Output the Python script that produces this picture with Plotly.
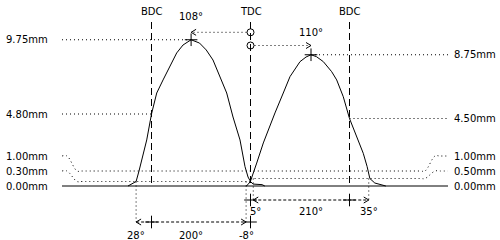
import plotly.graph_objects as go

# ---------------- data (crank degrees relative to TDC, lift in mm) ----------------
exhaust_deg = [-222.7, -215.5, -208, -202.7, -188.7, -180, -170.5, -159, -146.4, -134.2,
               -122.7, -115.5, -108, -92.7, -80.5, -68.2, -55.5, -43.3, -31.8, -19.1,
               -10, -4.5, 0, 4.5, 21, 26]
exhaust_lift = [0, 0.17, 0.30, 1.0, 3.07, 4.80, 6.2, 7.07, 7.95, 8.87,
                9.4, 9.6, 9.75, 9.53, 9.07, 8.4, 7.27, 6.2, 4.6, 3.07,
                1.29, 0.6, 0.3, 0.13, 0.09, 0]

intake_deg = [-8, -4.5, 0, 2.7, 11.3, 23.3, 38.5, 44.5, 59.6, 71.8, 90, 101, 110, 120,
              132.4, 147.6, 156.7, 168.7, 180, 193, 205, 212, 217, 226, 235, 243, 246]
intake_lift = [0, 0.1, 0.33, 0.6, 1.53, 2.87, 4.4, 4.87, 6.2, 7.29, 8.29, 8.6, 8.75, 8.62,
               8.29, 7.62, 7.07, 5.95, 4.50, 3.29, 2.18, 1.3, 0.5, 0.2, 0.13, 0.05, 0]

# events
exh_open_bbdc = 28      # opens 28 deg before BDC
exh_close = -8          # closes at -8 deg (relative to TDC)
exh_duration = 200
int_open = 5            # opens 5 deg after TDC
int_close_abdc = 35     # closes 35 deg after BDC
int_duration = 210
exh_peak_deg = 108      # before TDC
exh_max_lift = 9.75
int_peak_deg = 110      # after TDC
int_max_lift = 8.75
exh_lift_bdc = 4.80
int_lift_bdc = 4.50
exh_check_lift = 0.30
int_check_lift = 0.50
ref_lift = 1.00
BDC = 180

left_labels = ["9.75mm", "4.80mm", "1.00mm", "0.30mm", "0.00mm"]
right_labels = ["8.75mm", "4.50mm", "1.00mm", "0.50mm", "0.00mm"]

# ---------------- geometry helpers (pixel <-> data) ----------------
W, H = 500, 240
X0, KX = 250.5, 0.55     # TDC pixel column, px per degree
Y0, KY = 186.0, 15.0     # baseline pixel row, px per mm

def X(px):
    return (px - X0) / KX

def Y(py):
    return (Y0 - py) / KY

def dx(p):
    return p / KX

def dy(p):
    return p / KY

BLACK = "black"
FONT = dict(family="DejaVu Sans", size=10, color=BLACK)
DOT = "1px,3px"
traces = []

def line(xs, ys, dash=None, shape="linear", width=1):
    traces.append(go.Scatter(x=xs, y=ys, mode="lines", hoverinfo="skip",
                             line=dict(color=BLACK, width=width, dash=dash, shape=shape)))

def chevron(xt, yt, direction):
    s = 1 if direction == "left" else -1
    line([xt + s * dx(5), xt, xt + s * dx(5)], [yt + dy(3), yt, yt - dy(3)])

def plus(xs, ys):
    traces.append(go.Scatter(x=xs, y=ys, mode="markers", hoverinfo="skip",
                             marker=dict(symbol="cross-thin", size=9, color=BLACK,
                                         line=dict(width=1, color=BLACK))))

# baseline
line([X(62), X(448)], [0, 0])

# lift curves
line(exhaust_deg, exhaust_lift)
line(intake_deg, intake_lift)

# BDC / TDC vertical dashed lines
for xv in (-BDC, 0, BDC):
    line([xv, xv], [Y(22), 0], dash="7px,4px")

# peak / BDC lift dotted guides
line([X(62), -exh_peak_deg], [exh_max_lift, exh_max_lift], dash=DOT)
line([X(62), -BDC], [exh_lift_bdc, exh_lift_bdc], dash=DOT)
line([int_peak_deg, X(448)], [int_max_lift, int_max_lift], dash=DOT)
line([BDC, X(448)], [int_lift_bdc, int_lift_bdc], dash=DOT)

# label S-curves for small lifts
def s_curve(xa, ya, xb, yb):
    return [xa, xa + dx(5), xb - dx(5), xb], [ya, ya, yb, yb]

xs1, ys1 = s_curve(X(62), Y(156), X(82), ref_lift)
xs2, ys2 = s_curve(X(420), ref_lift, X(440), Y(156))
line(xs1 + xs2 + [X(448)], ys1 + ys2 + [Y(156)], dash=DOT, shape="spline")
xs3, ys3 = s_curve(X(62), Y(171), X(82), exh_check_lift)
line(xs3 + [0], ys3 + [exh_check_lift], dash=DOT, shape="spline")
xs4, ys4 = s_curve(X(420), int_check_lift, X(440), Y(171))
line([0] + xs4 + [X(448)], [int_check_lift] + ys4 + [Y(171)], dash=DOT, shape="spline")

# peak markers
plus([-exh_peak_deg, int_peak_deg], [exh_max_lift, int_max_lift])

# TDC circles and peak-angle arrows
yc1, yc2 = Y(32.3), Y(45.5)
traces.append(go.Scatter(x=[0, 0], y=[yc1, yc2], mode="markers", hoverinfo="skip",
                         marker=dict(symbol="circle-open", size=7, color=BLACK,
                                     line=dict(width=1, color=BLACK))))
line([-dx(4), -exh_peak_deg], [yc1, yc1], dash=DOT)
chevron(-exh_peak_deg, yc1, "left")
line([dx(4), int_peak_deg], [yc2, yc2], dash=DOT)
chevron(int_peak_deg, yc2, "right")

# timing rows
rowA, rowB = Y(222), Y(200)
exh_open_deg = -BDC - exh_open_bbdc
int_close_deg = BDC + int_close_abdc
line([exh_open_deg, exh_open_deg], [exh_check_lift, rowA], dash=DOT)
line([exh_close, exh_close], [exh_check_lift, rowA], dash=DOT)
line([int_open, int_open], [int_check_lift, rowB], dash=DOT)
line([int_close_deg, int_close_deg], [int_check_lift, rowB], dash=DOT)

line([exh_open_deg, exh_close], [rowA, rowA], dash="3px,2px")
chevron(exh_open_deg, rowA, "left")
chevron(exh_close, rowA, "right")
plus([-BDC, 0], [rowA, rowA])

line([int_open, int_close_deg], [rowB, rowB], dash="3px,2px")
chevron(int_open, rowB, "left")
chevron(int_close_deg, rowB, "right")
plus([0, BDC], [rowB, rowB])

fig = go.Figure(traces)

ann = []
def text(x, y, t, anchor="center"):
    ann.append(dict(x=x, y=y, text=t, showarrow=False, xanchor=anchor, yanchor="middle",
                    font=FONT))

text(-BDC, Y(11), "BDC")
text(0, Y(11), "TDC")
text(BDC, Y(11), "BDC")
text(-exh_peak_deg, Y(16), f"{exh_peak_deg}°")
text(int_peak_deg, Y(32.5), f"{int_peak_deg}°")

left_y = [exh_max_lift, exh_lift_bdc, Y(156), Y(171), 0]
right_y = [int_max_lift, int_lift_bdc, Y(156), Y(171), 0]
for t, yv in zip(left_labels, left_y):
    text(X(4), yv, t, "left")
for t, yv in zip(right_labels, right_y):
    text(X(452), yv, t, "left")

text(exh_open_deg, Y(235), f"{exh_open_bbdc}°")
text((exh_open_deg + exh_close) / 2, Y(235), f"{exh_duration}°")
text(exh_close, Y(235), f"{exh_close}°")
text(int_open + dx(2), Y(211), f"{int_open}°")
text((int_open + int_close_deg) / 2, Y(211), f"{int_duration}°")
text(int_close_deg, Y(211), f"{int_close_abdc}°")

fig.update_layout(
    width=W, height=H, margin=dict(l=0, r=0, t=0, b=0),
    paper_bgcolor="white", plot_bgcolor="white", showlegend=False,
    annotations=ann,
    xaxis=dict(range=[X(0), X(W)], visible=False, fixedrange=True),
    yaxis=dict(range=[Y(H), Y(0)], visible=False, fixedrange=True),
)

fig.write_html("out.html", config={"displayModeBar": False})
